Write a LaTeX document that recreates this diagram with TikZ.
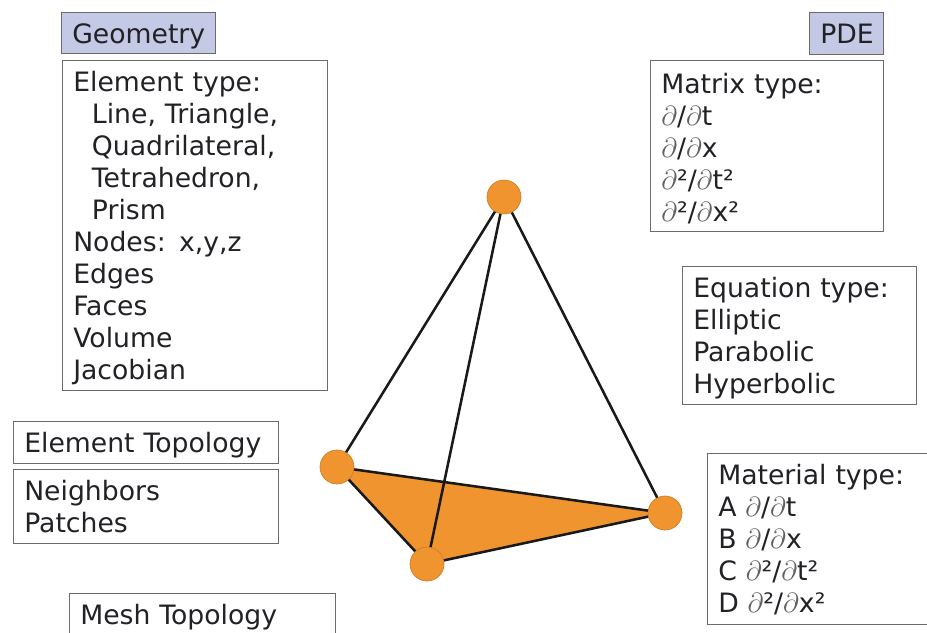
\documentclass[tikz,border=0pt]{standalone}
\usepackage{fontspec}
\setmainfont{DejaVu Sans}
\usepackage{xcolor}
\usetikzlibrary{backgrounds}
\definecolor{boxline}{rgb}{0.42,0.42,0.42}
\definecolor{headfill}{rgb}{0.77,0.79,0.90}
\definecolor{vertexfill}{rgb}{0.94,0.58,0.19}
\definecolor{inktext}{rgb}{0.13,0.13,0.15}
\newcommand{\pd}{{\color{black!62}$\partial$}}
\newcommand{\ind}{\hspace*{14pt}}
\newcommand{\lowend}{\rule[-5pt]{0pt}{0pt}}
\tikzset{every picture/.style={line width=0.75pt}}
\tikzset{
infobox/.style={draw=boxline,line width=0.9pt,anchor=north west,inner xsep=8pt,inner ysep=0pt,align=left,text=inktext,font=\fontsize{20}{24}\selectfont,execute at begin node={\rule{0pt}{19.5pt}}},
headbox/.style={infobox,fill=headfill},
vertexdot/.style={circle,draw=vertexfill!85!black,line width=0.5pt,fill=vertexfill,minimum size=25.5pt,inner sep=0pt},
edgeline/.style={line width=1.9pt,draw=black!90}}

\begin{document}
\begin{tikzpicture}[x=0.75pt,y=0.75pt,yscale=-1,xscale=1]
\useasboundingbox (0,0) rectangle (927,632);

% Vertices
\node [vertexdot] (apex) at (504,197) {};
\node [vertexdot] (left) at (337,467) {};
\node [vertexdot] (front) at (427,564) {};
\node [vertexdot] (right) at (665,513) {};

%Shape: Base Triangle
\begin{scope}[on background layer]
\fill [vertexfill] (left.center) -- (right.center) -- (front.center) -- cycle;
\end{scope}
%Straight Lines
\draw [edgeline] (left) -- (right);
\draw [edgeline] (right) -- (front);
\draw [edgeline] (front) -- (left);
\draw [edgeline] (apex) -- (left);
\draw [edgeline] (apex) -- (front);
\draw [edgeline] (apex) -- (right);

% Text Node
\node [headbox,text width=99.5pt,minimum height=30.5pt] (geometry) at (61,12) {Geometry};
% Text Node
\node [infobox,text width=182.75pt,minimum height=247.5pt] (elementtype) at (62,60) {Element type:\\\ind Line, Triangle,\\\ind Quadrilateral,\\\ind Tetrahedron,\\\ind Prism\\Nodes: x,y,z\\Edges\\Faces\\Volume\\Jacobian};
% Text Node
\node [headbox,text width=39.5pt,minimum height=31.5pt] (pde) at (809,12) {PDE\lowend};
% Text Node
\node [infobox,text width=158.75pt,minimum height=128.25pt] (matrixtype) at (650,60) {Matrix type:\\\pd/\pd t\\\pd/\pd x\\\pd²/\pd t²\\\pd²/\pd x²};
% Text Node
\node [infobox,text width=159.5pt,minimum height=103.5pt] (equationtype) at (682,266) {Equation type:\\Elliptic\\Parabolic\\Hyperbolic};
% Text Node
\node [infobox,text width=182.75pt,minimum height=31.5pt] (elementtopology) at (13,421) {Element Topology};
% Text Node
\node [infobox,text width=182.75pt,minimum height=55.5pt] (neighbors) at (13,469) {Neighbors\\Patches\lowend};
% Text Node
\node [infobox,text width=183.5pt,minimum height=31.5pt] (meshtopology) at (69,593) {Mesh Topology};
% Text Node
\node [infobox,text width=170pt,minimum height=128.25pt] (materialtype) at (707,453) {Material type:\\A \pd/\pd t\\B \pd/\pd x\\C \pd²/\pd t²\\D \pd²/\pd x²\lowend};
\end{tikzpicture}
\end{document}
